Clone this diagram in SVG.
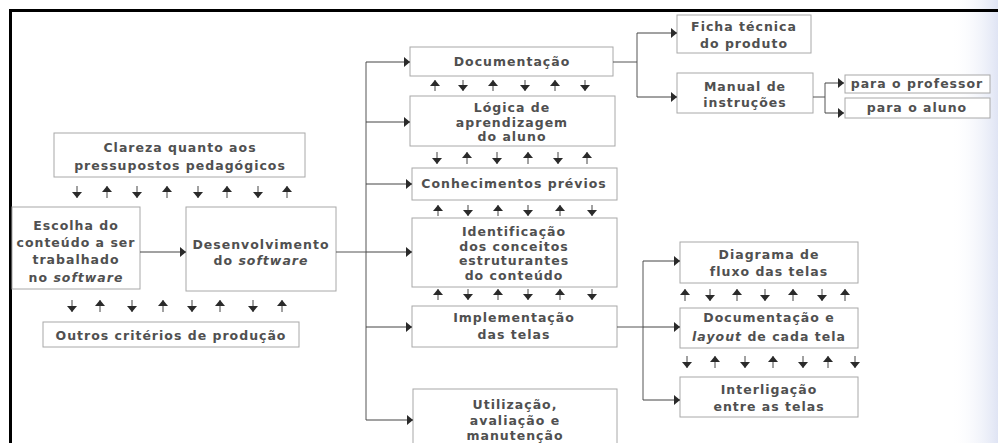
<svg xmlns="http://www.w3.org/2000/svg" width="998" height="443" viewBox="0 0 998 443">
<defs>
<linearGradient id="scan" x1="0" y1="0" x2="1" y2="0">
<stop offset="0" stop-color="#ffffff" stop-opacity="0"/>
<stop offset="1" stop-color="#dfe4f4"/>
</linearGradient>
<marker id="ah" viewBox="0 0 10 10" refX="10" refY="5" markerUnits="userSpaceOnUse" markerWidth="6" markerHeight="10" orient="auto" preserveAspectRatio="none">
<path d="M0,0 L10,5 L0,10 z" fill="#2a2a2a"/>
</marker>
</defs>
<style>
.box{fill:#ffffff;stroke:#a8a8a8;stroke-width:1}
.t{font-family:"DejaVu Sans","Liberation Sans",sans-serif;font-size:12.5px;font-weight:bold;fill:#505050;text-anchor:middle;letter-spacing:1px}
.i{font-style:italic}
.c{stroke:#555;stroke-width:1;fill:none}
.a{stroke:#444;stroke-width:1;fill:none;marker-end:url(#ah)}
</style>
<rect x="0" y="0" width="998" height="443" fill="#ffffff"/>
<rect x="950" y="0" width="48" height="443" fill="url(#scan)"/>
<path d="M10.5,443 L10.5,10.5 L998,10.5" fill="none" stroke="#000" stroke-width="3"/>

<g id="clareza"><rect class="box" x="54" y="133" width="251" height="44"/><text class="t" x="180" y="152">Clareza quanto aos</text><text class="t" x="180" y="170">pressupostos pedagógicos</text></g>
<g id="escolha"><rect class="box" x="12" y="207" width="128" height="82"/><text class="t" x="76" y="230">Escolha do</text><text class="t" x="76" y="247">conteúdo a ser</text><text class="t" x="76" y="264">trabalhado</text><text class="t" x="76" y="282">no <tspan class="i">software</tspan></text></g>
<g id="desenvolvimento"><rect class="box" x="186" y="207" width="150" height="84"/><text class="t" x="261" y="249">Desenvolvimento</text><text class="t" x="261" y="265">do <tspan class="i">software</tspan></text></g>
<g id="outros"><rect class="box" x="43" y="322" width="256" height="25"/><text class="t" x="171" y="340">Outros critérios de produção</text></g>

<g id="documentacao"><rect class="box" x="410" y="47" width="203" height="29"/><text class="t" x="512" y="66">Documentação</text></g>
<g id="logica"><rect class="box" x="410" y="96" width="205" height="50"/><text class="t" x="512" y="112">Lógica de</text><text class="t" x="512" y="127">aprendizagem</text><text class="t" x="512" y="141">do aluno</text></g>
<g id="conhecimentos"><rect class="box" x="412" y="168" width="205" height="32"/><text class="t" x="514" y="188">Conhecimentos prévios</text></g>
<g id="identificacao"><rect class="box" x="412" y="218" width="205" height="69"/><text class="t" x="514" y="236">Identificação</text><text class="t" x="514" y="250.5">dos conceitos</text><text class="t" x="514" y="265">estruturantes</text><text class="t" x="514" y="279.5">do conteúdo</text></g>
<g id="implementacao"><rect class="box" x="412" y="306" width="205" height="41"/><text class="t" x="514" y="322">Implementação</text><text class="t" x="514" y="339">das telas</text></g>
<g id="utilizacao"><rect class="box" x="413" y="389" width="204" height="60"/><text class="t" x="515" y="409">Utilização,</text><text class="t" x="515" y="425">avaliação e</text><text class="t" x="515" y="440">manutenção</text></g>

<g id="ficha"><rect class="box" x="677" y="15" width="134" height="38"/><text class="t" x="744" y="31">Ficha técnica</text><text class="t" x="744" y="48">do produto</text></g>
<g id="manual"><rect class="box" x="677" y="73" width="136" height="40"/><text class="t" x="745" y="91">Manual de</text><text class="t" x="745" y="107">instruções</text></g>
<g id="professor"><rect class="box" x="845" y="75" width="145" height="18"/><text class="t" x="917" y="88">para o professor</text></g>
<g id="aluno"><rect class="box" x="845" y="98" width="145" height="20"/><text class="t" x="917" y="112">para o aluno</text></g>

<g id="diagrama"><rect class="box" x="680" y="242" width="178" height="41"/><text class="t" x="769" y="259">Diagrama de</text><text class="t" x="769" y="276">fluxo das telas</text></g>
<g id="layout"><rect class="box" x="680" y="308" width="178" height="40"/><text class="t" x="769" y="322">Documentação e</text><text class="t" x="769" y="341"><tspan class="i">layout</tspan> de cada tela</text></g>
<g id="interligacao"><rect class="box" x="680" y="377" width="178" height="40"/><text class="t" x="769" y="394">Interligação</text><text class="t" x="769" y="411">entre as telas</text></g>

<g id="connectors">
<line class="a" x1="140" y1="252" x2="186" y2="252"/>
<path class="c" d="M336,252 H366 M366,62 V420"/>
<line class="a" x1="366" y1="62" x2="410" y2="62"/>
<line class="a" x1="366" y1="122" x2="410" y2="122"/>
<line class="a" x1="366" y1="184" x2="412" y2="184"/>
<line class="a" x1="366" y1="252" x2="412" y2="252"/>
<line class="a" x1="366" y1="327" x2="412" y2="327"/>
<line class="a" x1="366" y1="420" x2="413" y2="420"/>
<path class="c" d="M613,62 H637 M637,33 V97"/>
<line class="a" x1="637" y1="33" x2="677" y2="33"/>
<line class="a" x1="637" y1="97" x2="677" y2="97"/>
<path class="c" d="M813,97 H825 M825,83 V113"/>
<line class="a" x1="825" y1="83" x2="844" y2="83"/>
<line class="a" x1="825" y1="113" x2="844" y2="113"/>
<path class="c" d="M617,327 H643 M643,261 V400"/>
<line class="a" x1="643" y1="261" x2="680" y2="261"/>
<line class="a" x1="643" y1="327" x2="680" y2="327"/>
<line class="a" x1="643" y1="400" x2="680" y2="400"/>

<line class="a" x1="77" y1="186" x2="77" y2="198"/>
<line class="a" x1="107" y1="198" x2="107" y2="186"/>
<line class="a" x1="137" y1="186" x2="137" y2="198"/>
<line class="a" x1="167" y1="198" x2="167" y2="186"/>
<line class="a" x1="198" y1="186" x2="198" y2="198"/>
<line class="a" x1="227" y1="198" x2="227" y2="186"/>
<line class="a" x1="258" y1="186" x2="258" y2="198"/>
<line class="a" x1="287" y1="198" x2="287" y2="186"/>

<line class="a" x1="72" y1="300" x2="72" y2="312"/>
<line class="a" x1="100" y1="312" x2="100" y2="300"/>
<line class="a" x1="132" y1="300" x2="132" y2="312"/>
<line class="a" x1="163" y1="312" x2="163" y2="300"/>
<line class="a" x1="192" y1="300" x2="192" y2="312"/>
<line class="a" x1="220" y1="312" x2="220" y2="300"/>
<line class="a" x1="253" y1="300" x2="253" y2="312"/>
<line class="a" x1="282" y1="312" x2="282" y2="300"/>

<line class="a" x1="435" y1="91" x2="435" y2="80"/>
<line class="a" x1="463" y1="80" x2="463" y2="91"/>
<line class="a" x1="493" y1="91" x2="493" y2="80"/>
<line class="a" x1="525" y1="80" x2="525" y2="91"/>
<line class="a" x1="555" y1="91" x2="555" y2="80"/>
<line class="a" x1="585" y1="80" x2="585" y2="91"/>

<line class="a" x1="437" y1="152" x2="437" y2="164"/>
<line class="a" x1="467" y1="164" x2="467" y2="152"/>
<line class="a" x1="497" y1="152" x2="497" y2="164"/>
<line class="a" x1="528" y1="164" x2="528" y2="152"/>
<line class="a" x1="558" y1="152" x2="558" y2="164"/>
<line class="a" x1="587" y1="164" x2="587" y2="152"/>

<line class="a" x1="438" y1="216" x2="438" y2="205"/>
<line class="a" x1="468" y1="205" x2="468" y2="216"/>
<line class="a" x1="498" y1="216" x2="498" y2="205"/>
<line class="a" x1="528" y1="205" x2="528" y2="216"/>
<line class="a" x1="560" y1="216" x2="560" y2="205"/>
<line class="a" x1="592" y1="205" x2="592" y2="216"/>

<line class="a" x1="438" y1="300" x2="438" y2="289"/>
<line class="a" x1="468" y1="289" x2="468" y2="300"/>
<line class="a" x1="498" y1="300" x2="498" y2="289"/>
<line class="a" x1="528" y1="289" x2="528" y2="300"/>
<line class="a" x1="560" y1="300" x2="560" y2="289"/>
<line class="a" x1="592" y1="289" x2="592" y2="300"/>

<line class="a" x1="685" y1="301" x2="685" y2="289"/>
<line class="a" x1="710" y1="289" x2="710" y2="301"/>
<line class="a" x1="737" y1="301" x2="737" y2="289"/>
<line class="a" x1="765" y1="289" x2="765" y2="301"/>
<line class="a" x1="793" y1="301" x2="793" y2="289"/>
<line class="a" x1="822" y1="289" x2="822" y2="301"/>
<line class="a" x1="845" y1="301" x2="845" y2="289"/>

<line class="a" x1="687" y1="356" x2="687" y2="368"/>
<line class="a" x1="715" y1="368" x2="715" y2="356"/>
<line class="a" x1="745" y1="356" x2="745" y2="368"/>
<line class="a" x1="773" y1="368" x2="773" y2="356"/>
<line class="a" x1="803" y1="356" x2="803" y2="368"/>
<line class="a" x1="828" y1="368" x2="828" y2="356"/>
<line class="a" x1="855" y1="356" x2="855" y2="368"/>
</g>
</svg>
